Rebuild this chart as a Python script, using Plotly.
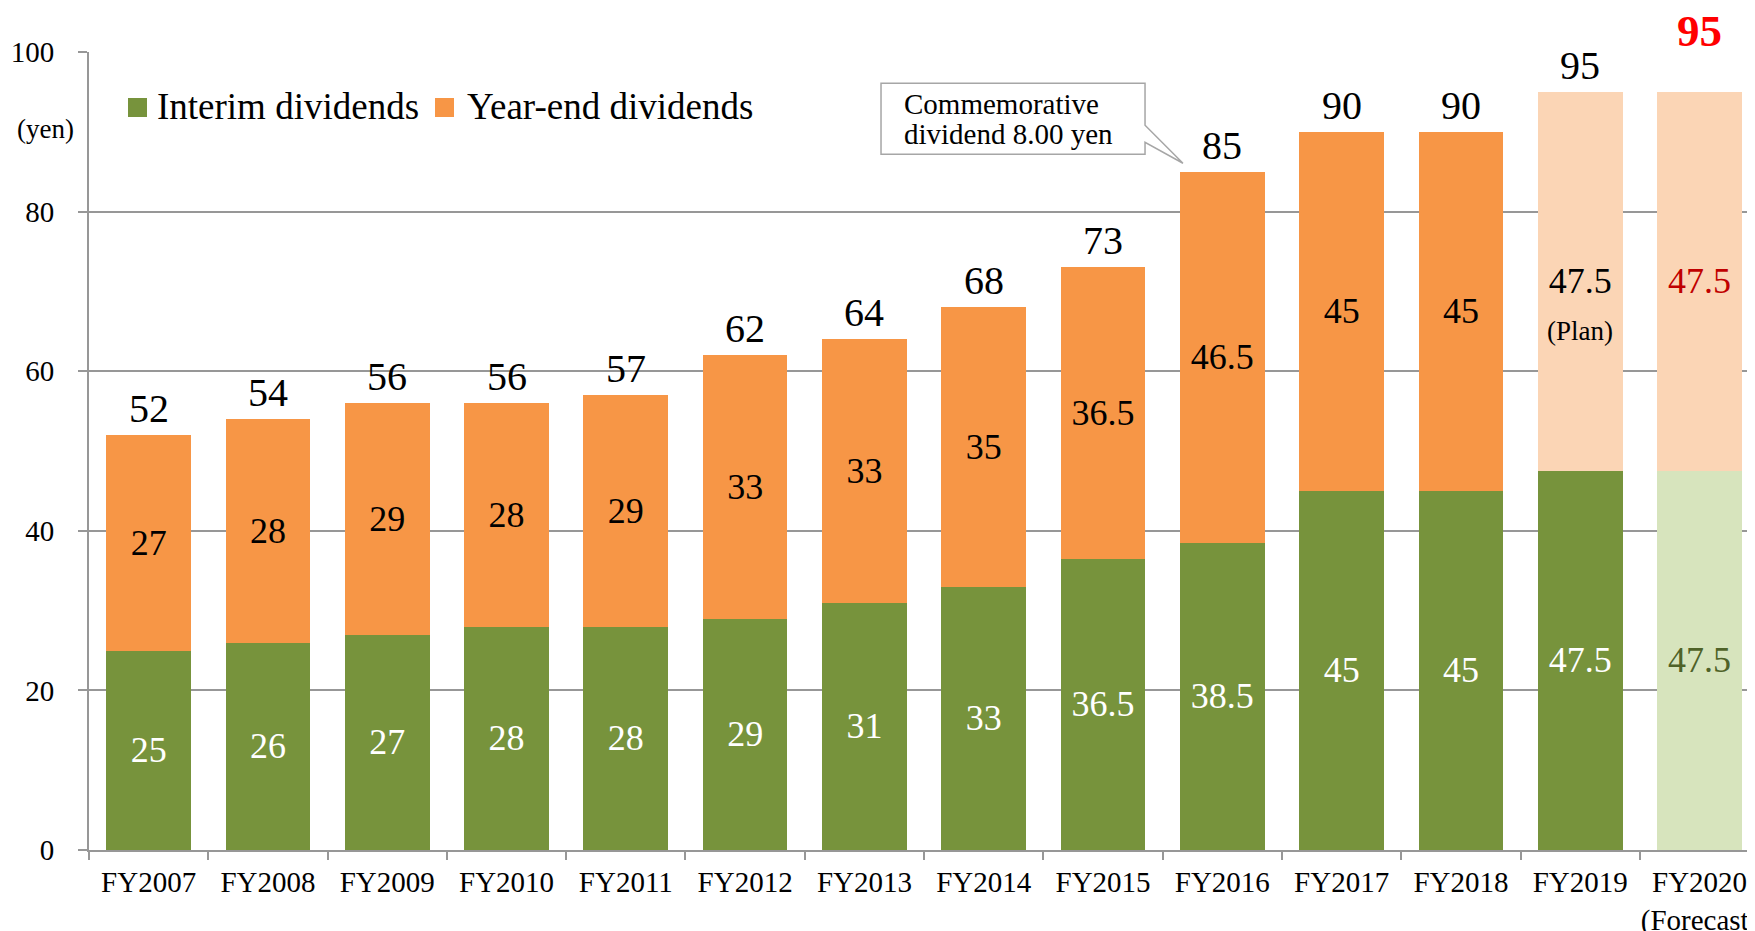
import plotly.graph_objects as go

# ---------------- data ----------------
categories = ["FY2007", "FY2008", "FY2009", "FY2010", "FY2011", "FY2012", "FY2013",
              "FY2014", "FY2015", "FY2016", "FY2017", "FY2018", "FY2019", "FY2020"]
tick_labels = ["FY2007", "FY2008", "FY2009", "FY2010", "FY2011", "FY2012", "FY2013",
               "FY2014", "FY2015", "FY2016", "FY2017", "FY2018", "FY2019", "FY2020<br>(Forecast)"]
interim = [25, 26, 27, 28, 28, 29, 31, 33, 36.5, 38.5, 45, 45, 47.5, 47.5]
year_end = [27, 28, 29, 28, 29, 33, 33, 35, 36.5, 46.5, 45, 45, 47.5, 47.5]
y_ticks = [0, 20, 40, 60, 80, 100]
series_names = ["Interim dividends", "Year-end dividends"]

# ---------------- styles ----------------
FONT = "'Liberation Serif', 'Times New Roman', Times, serif"
GREEN = "#77933C"
GREEN_LIGHT = "#D7E4BD"
ORANGE = "#F79646"
ORANGE_LIGHT = "#FBD5B5"
GRID = "#979797"

# page geometry (the page body adds an 8px offset)
OFF = 8
W, H = 1755 - OFF, 931 - OFF
ML, MT, MB = 89 - OFF, 52 - OFF, 81
PW, PH = W - ML, H - MT - MB


def px_x(px):  # page pixel -> paper x
    return (px - 89) / PW


def px_y(py):  # page pixel -> paper y
    return 1 - (py - 52) / PH


totals = [a + b for a, b in zip(interim, year_end)]


def fmt(v):
    return f"{v:g}"


n = len(categories)
interim_colors = [GREEN] * (n - 1) + [GREEN_LIGHT]
year_end_colors = [ORANGE] * (n - 2) + [ORANGE_LIGHT] * 2
interim_text_colors = ["white"] * (n - 1) + ["#4F6228"]
year_end_text_colors = ["black"] * (n - 1) + ["#C00000"]

fig = go.Figure()
fig.add_trace(go.Bar(
    name=series_names[0], x=categories, y=interim, showlegend=False,
    marker=dict(color=interim_colors, line=dict(width=0)),
    text=[fmt(v) for v in interim], textposition="inside", insidetextanchor="middle",
    textangle=0, textfont=dict(family=FONT, size=36, color=interim_text_colors),
))
fig.add_trace(go.Bar(
    name=series_names[1], x=categories, y=year_end, showlegend=False,
    marker=dict(color=year_end_colors, line=dict(width=0)),
    text=[fmt(v) for v in year_end], textposition="inside", insidetextanchor="middle",
    textangle=0, textfont=dict(family=FONT, size=36, color=year_end_text_colors),
))

annotations = []
for i, (c, t) in enumerate(zip(categories, totals)):
    if i < n - 1:
        annotations.append(dict(x=c, y=t, xref="x", yref="y", text=fmt(t), showarrow=False,
                                yanchor="bottom", yshift=2,
                                font=dict(family=FONT, size=40, color="black")))
    else:
        annotations.append(dict(x=c, y=t, xref="x", yref="y", text=f"<b>{fmt(t)}</b>",
                                showarrow=False, yanchor="bottom", yshift=34,
                                font=dict(family=FONT, size=45, color="#FF0000")))

# "(Plan)" note under FY2019 year-end label
annotations.append(dict(x=categories[12], y=65, xref="x", yref="y", text="(Plan)",
                        showarrow=False, font=dict(family=FONT, size=27, color="black")))

# callout text
annotations.append(dict(x=6.315, y=93.5, xref="x", yref="y", text="Commemorative",
                        showarrow=False, xanchor="left", yanchor="middle",
                        font=dict(family=FONT, size=29, color="black")))
annotations.append(dict(x=6.315, y=89.75, xref="x", yref="y", text="dividend 8.00 yen",
                        showarrow=False, xanchor="left", yanchor="middle",
                        font=dict(family=FONT, size=29, color="black")))

# unit label
annotations.append(dict(x=px_x(45), y=px_y(129), xref="paper", yref="paper", text="(yen)",
                        showarrow=False, xanchor="center", yanchor="middle",
                        font=dict(family=FONT, size=27, color="black")))

# manual legend
legend_items = [(series_names[0], GREEN, 128, 155), (series_names[1], ORANGE, 435, 465)]
shapes = []
for name, col, sq_x, tx in legend_items:
    shapes.append(dict(type="rect", xref="paper", yref="paper",
                       x0=px_x(sq_x), x1=px_x(sq_x + 19), y0=px_y(117), y1=px_y(98),
                       fillcolor=col, line=dict(width=0)))
    annotations.append(dict(x=px_x(tx), y=px_y(106), xref="paper", yref="paper", text=name,
                            showarrow=False, xanchor="left", yanchor="middle",
                            font=dict(family=FONT, size=37, color="black")))

shapes.append(dict(
    type="path", xref="x", yref="y",
    path="M 6.139,96.08 L 8.352,96.08 L 8.352,90.82 L 8.670,86.06 L 8.352,88.69 "
         "L 8.352,87.19 L 6.139,87.19 Z",
    fillcolor="white", line=dict(color="#A6A6A6", width=1.5), layer="above",
))

fig.update_layout(
    template="none",
    width=W, height=H,
    margin=dict(l=ML, r=0, t=MT, b=MB, autoexpand=False),
    paper_bgcolor="white", plot_bgcolor="white",
    barmode="stack", bargap=0.29,
    font=dict(family=FONT, color="black"),
    showlegend=False,
    annotations=annotations,
    shapes=shapes,
    xaxis=dict(type="category", categoryorder="array", categoryarray=categories,
               tickvals=categories, ticktext=tick_labels, tickangle=0,
               range=[-0.5, 13.465], showgrid=False, zeroline=False,
               showline=True, linecolor=GRID, linewidth=2,
               ticks="outside", tickson="boundaries", ticklen=8, tickwidth=2, tickcolor=GRID,
               ticklabelstandoff=5,
               tickfont=dict(family=FONT, size=29, color="black"), automargin=False),
    yaxis=dict(range=[0, 100], tickvals=y_ticks, showgrid=True, gridcolor=GRID, gridwidth=2,
               zeroline=False, showline=True, linecolor=GRID, linewidth=2,
               ticks="outside", ticklen=9, tickwidth=2, tickcolor=GRID,
               ticklabelstandoff=18,
               tickfont=dict(family=FONT, size=29, color="black"), automargin=False),
)

fig.write_html("out.html")
